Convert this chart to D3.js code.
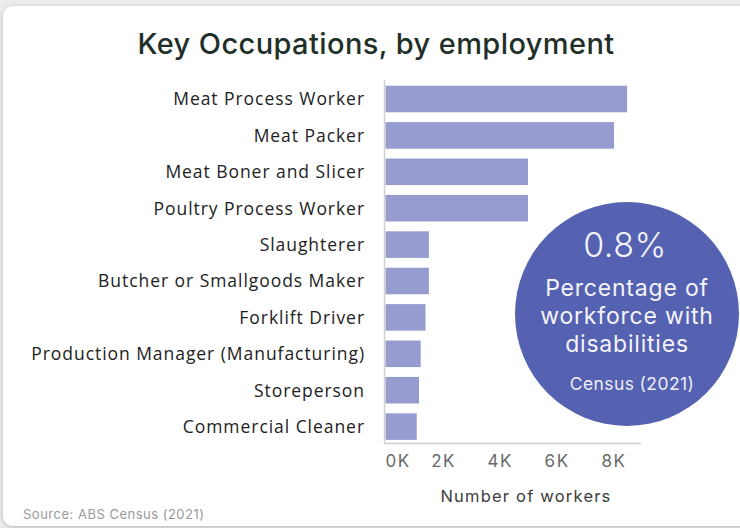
<!DOCTYPE html>
<html>
<head>
<meta charset="utf-8">
<script src="https://cdn.jsdelivr.net/npm/d3@7"></script>
<style>
  html, body { margin: 0; padding: 0; background: #ececec; }
  svg { display: block; }
</style>
</head>
<body>
<svg id="chart" width="740" height="528"></svg>
<script>
// Occupations and worker counts (Census 2021)
const occupations = [
  "Meat Process Worker",
  "Meat Packer",
  "Meat Boner and Slicer",
  "Poultry Process Worker",
  "Slaughterer",
  "Butcher or Smallgoods Maker",
  "Forklift Driver",
  "Production Manager (Manufacturing)",
  "Storeperson",
  "Commercial Cleaner"
];
const workers = [8510, 8050, 5020, 5020, 1530, 1530, 1410, 1240, 1180, 1100];
const xTicks = [0, 2000, 4000, 6000, 8000];
const xTickLabels = ["0K", "2K", "4K", "6K", "8K"];
const statValue = "0.8%";
const statLines = ["Percentage of", "workforce with", "disabilities"];
const statSource = "Census (2021)";

const data = occupations.map((name, i) => ({ name, value: workers[i] }));

const svg = d3.select("#chart");

// card background
const defs = svg.append("defs");
const f = defs.append("filter").attr("id", "shadow").attr("x", "-5%").attr("y", "-5%").attr("width", "110%").attr("height", "110%");
f.append("feGaussianBlur").attr("in", "SourceAlpha").attr("stdDeviation", 2);
f.append("feOffset").attr("dx", 0).attr("dy", 1).attr("result", "b");
f.append("feComponentTransfer").append("feFuncA").attr("type", "linear").attr("slope", 0.25);
const m = f.append("feMerge");
m.append("feMergeNode");
m.append("feMergeNode").attr("in", "SourceGraphic");

svg.append("rect")
  .attr("x", 3).attr("y", 6).attr("width", 760).attr("height", 520)
  .attr("rx", 10).attr("fill", "#ffffff").attr("filter", "url(#shadow)");

// title
svg.append("text")
  .attr("x", 376).attr("y", 54)
  .attr("text-anchor", "middle")
  .attr("font-family", "Inter, 'Open Sans', sans-serif")
  .attr("font-weight", 500)
  .attr("font-size", 29)
  .attr("letter-spacing", 0.4)
  .attr("fill", "#1f3028")
  .text("Key Occupations, by employment");

// scales
const x = d3.scaleLinear().domain([0, 9000]).range([385.5, 641]);
const y = d3.scaleBand()
  .domain(occupations)
  .range([80.8, 444.8])
  .paddingInner(0.27)
  .paddingOuter(0.135);

// bars
svg.append("g").selectAll("rect")
  .data(data)
  .join("rect")
  .attr("x", x(0))
  .attr("y", d => y(d.name))
  .attr("width", d => x(d.value) - x(0))
  .attr("height", y.bandwidth())
  .attr("fill", "#979cd0");

// axis lines
svg.append("line")
  .attr("x1", 384.5).attr("x2", 384.5).attr("y1", 80).attr("y2", 443.5)
  .attr("stroke", "#d0d0d0").attr("stroke-width", 1.5);
svg.append("line")
  .attr("x1", 384).attr("x2", 641).attr("y1", 443.5).attr("y2", 443.5)
  .attr("stroke", "#d0d0d0").attr("stroke-width", 1.5);

// category labels
svg.append("g").selectAll("text")
  .data(data)
  .join("text")
  .attr("x", 365)
  .attr("y", d => y(d.name) + y.bandwidth() / 2)
  .attr("dy", "0.36em")
  .attr("text-anchor", "end")
  .attr("font-family", "'Open Sans', Lato, sans-serif")
  .attr("font-size", 17.5)
  .attr("letter-spacing", 0.95)
  .attr("fill", "#222")
  .text(d => d.name);

// x tick labels
const xAxis = d3.axisBottom(x)
  .tickValues(xTicks)
  .tickFormat((d, i) => xTickLabels[i])
  .tickSize(0)
  .tickPadding(0);
const gx = svg.append("g").attr("transform", "translate(0,467)").call(xAxis);
gx.select(".domain").remove();
gx.selectAll("text")
  .attr("dy", 0)
  .attr("y", 0)
  .attr("font-family", "Inter, 'Open Sans', sans-serif")
  .attr("font-size", 17)
  .attr("letter-spacing", 1.5)
  .attr("fill", "#6a6a6a")
  .attr("text-anchor", (d, i) => i === 0 ? "start" : "middle")
  .attr("dx", (d, i) => i === 0 ? -0.5 : 0.75);

// x axis title
svg.append("text")
  .attr("x", 526).attr("y", 502)
  .attr("text-anchor", "middle")
  .attr("font-family", "Inter, 'Open Sans', sans-serif")
  .attr("font-size", 16.5)
  .attr("letter-spacing", 1.2)
  .attr("fill", "#3c3c3c")
  .text("Number of workers");

// source
svg.append("text")
  .attr("x", 23).attr("y", 519)
  .attr("font-family", "Inter, 'Open Sans', sans-serif")
  .attr("font-size", 13)
  .attr("letter-spacing", 0.5)
  .attr("fill", "#9a9a9a")
  .text("Source: ABS Census (2021)");

// highlight circle
const cx = 627, cy = 314, r = 112;
svg.append("circle")
  .attr("cx", cx).attr("cy", cy).attr("r", r)
  .attr("fill", "#5561b1");

svg.append("text")
  .attr("x", cx - 2).attr("y", 257)
  .attr("text-anchor", "middle")
  .attr("font-family", "Inter, 'Open Sans', sans-serif")
  .attr("font-weight", 300)
  .attr("font-size", 34)
  .attr("letter-spacing", 0.5)
  .attr("fill", "#f4f4fa")
  .text(statValue);

svg.append("g").selectAll("text")
  .data(statLines)
  .join("text")
  .attr("x", cx)
  .attr("y", (d, i) => 296 + i * 28)
  .attr("text-anchor", "middle")
  .attr("font-family", "Inter, 'Open Sans', sans-serif")
  .attr("font-size", 23)
  .attr("letter-spacing", 0.8)
  .attr("fill", "#f4f4fa")
  .text(d => d);

svg.append("text")
  .attr("x", cx + 5).attr("y", 390)
  .attr("text-anchor", "middle")
  .attr("font-family", "Inter, 'Open Sans', sans-serif")
  .attr("font-size", 17.5)
  .attr("letter-spacing", 0.4)
  .attr("fill", "#eeeef8")
  .text(statSource);
</script>
</body>
</html>
